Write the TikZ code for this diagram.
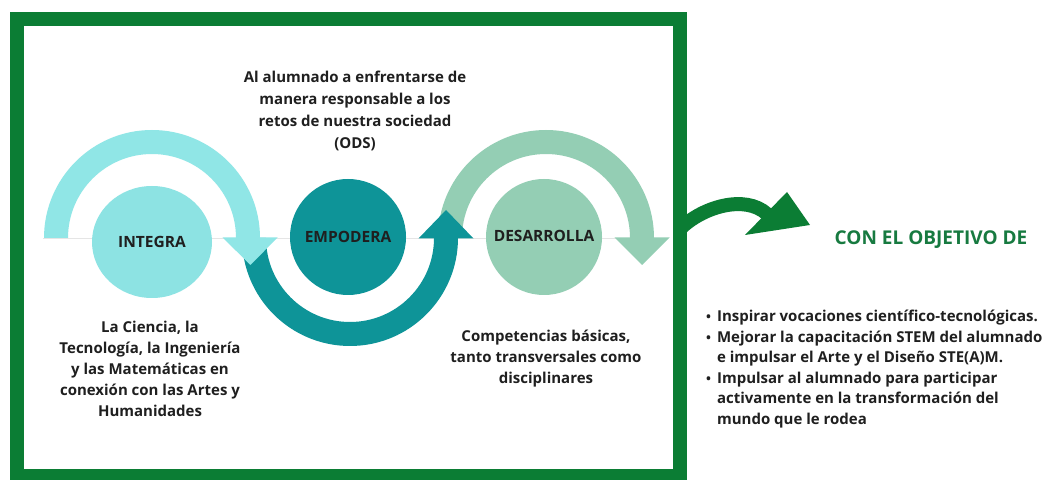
\documentclass[tikz,border=0pt]{standalone}
\usepackage{fontspec}
\setmainfont{Open Sans}
\usetikzlibrary{shapes.geometric}
\definecolor{framegreen}{HTML}{0B7D34}
\definecolor{cyanc}{HTML}{8DE3E3}
\definecolor{cyanarc}{HTML}{90E6E6}
\definecolor{tealc}{HTML}{0E9498}
\definecolor{sagec}{HTML}{94CEB4}
\definecolor{txtc}{HTML}{1F1F1F}
\definecolor{titlegreen}{HTML}{177A40}
\newcommand{\mybul}{{\fontsize{13}{13}\selectfont\textbullet}}
\tikzset{
  bodytext/.style={text=txtc, align=center, inner sep=0pt,
    font=\fontsize{15}{21}\selectfont\bfseries},
  blob/.style={inner sep=0pt, text=txtc, font=\fontsize{15.5}{18}\selectfont\bfseries},
}
\begin{document}
\begin{tikzpicture}[x=1pt,y=1pt]
\useasboundingbox (0,0) rectangle (1051,479);
\fill[white] (0,0) rectangle (1051,479);
% faint centre line
\draw[black!10, line width=0.8pt] (43,241) -- (668,241);
% DESARROLLA arc (sage)
\fill[sagec] (438,241) arc[start angle=180,end angle=0,radius=108]
  -- (630,241) arc[start angle=0,end angle=180,radius=84] -- cycle;
\fill[sagec] (614.5,241.5) -- (669.5,241.5) -- (642,214) -- cycle;
% EMPODERA arc (teal)
\fill[tealc] (242,241) arc[start angle=180,end angle=360,radius=108]
  -- (434,241) arc[start angle=360,end angle=180,radius=84] -- cycle;
\fill[tealc] (418.5,240.5) -- (473.5,240.5) -- (446,269) -- cycle;
% INTEGRA arc (cyan)
\fill[cyanarc] (44,241) arc[start angle=180,end angle=0,radius=108]
  -- (236,241) arc[start angle=0,end angle=180,radius=84] -- cycle;
\fill[cyanarc] (222.5,241.5) -- (277.5,241.5) -- (250.5,214) -- cycle;
% circles
\node[blob, ellipse, fill=cyanc, minimum width=120pt, minimum height=112pt] (integra) at (152,237) {INTEGRA};
\node[blob, circle, fill=tealc, minimum size=116pt] (empodera) at (348,242) {\raisebox{-2pt}{EMPODERA}};
\node[blob, circle, fill=sagec, minimum size=116pt] (desarrolla) at (544,242) {\raisebox{3pt}{DESARROLLA}};
% texts
\node[bodytext, font=\fontsize{15}{22}\selectfont\bfseries] (ods) at (355,368)
  {Al alumnado a enfrentarse de\\manera responsable a los\\retos de nuestra sociedad\\(ODS)};
\node[bodytext, font=\fontsize{15}{21}\selectfont\bfseries] (ciencia) at (150,110)
  {La Ciencia, la\\Tecnología, la Ingeniería\\y las Matemáticas en\\conexión con las Artes y\\Humanidades};
\node[bodytext, font=\fontsize{15}{21}\selectfont\bfseries] (compet) at (546,120)
  {Competencias básicas,\\tanto transversales como\\disciplinares};
% frame
\begin{scope}
\clip (0,0) rectangle (1051,479);
\draw[framegreen, line width=14pt] (17,3) rectangle (680,459.5);
\end{scope}
% green arrow
\coordinate (arrS) at (680,250);
\coordinate (arrM) at (767,265);
\draw[framegreen, line width=14pt] (arrS) .. controls (702,272) and (745,285) .. (arrM);
\fill[framegreen] (787,287) -- (810,254) -- (745,244) -- cycle;
% right side
\node[inner sep=0pt, text=titlegreen, font=\fontsize{19}{22}\selectfont\bfseries] (objetivo) at (931,239) {CON EL OBJETIVO DE};
\node[inner sep=0pt, anchor=west, text=txtc, font=\fontsize{15}{20.5}\selectfont\bfseries] (lista) at (706,110)
{\begin{tabular}{@{}c@{\hspace{6pt}}l@{}}
\mybul & Inspirar vocaciones científico-tecnológicas.\\
\mybul & Mejorar la capacitación STEM del alumnado\\
 & e impulsar el Arte y el Diseño STE(A)M.\\
\mybul & Impulsar al alumnado para participar\\
 & activamente en la transformación del\\
 & mundo que le rodea
\end{tabular}};
\end{tikzpicture}
\end{document}
